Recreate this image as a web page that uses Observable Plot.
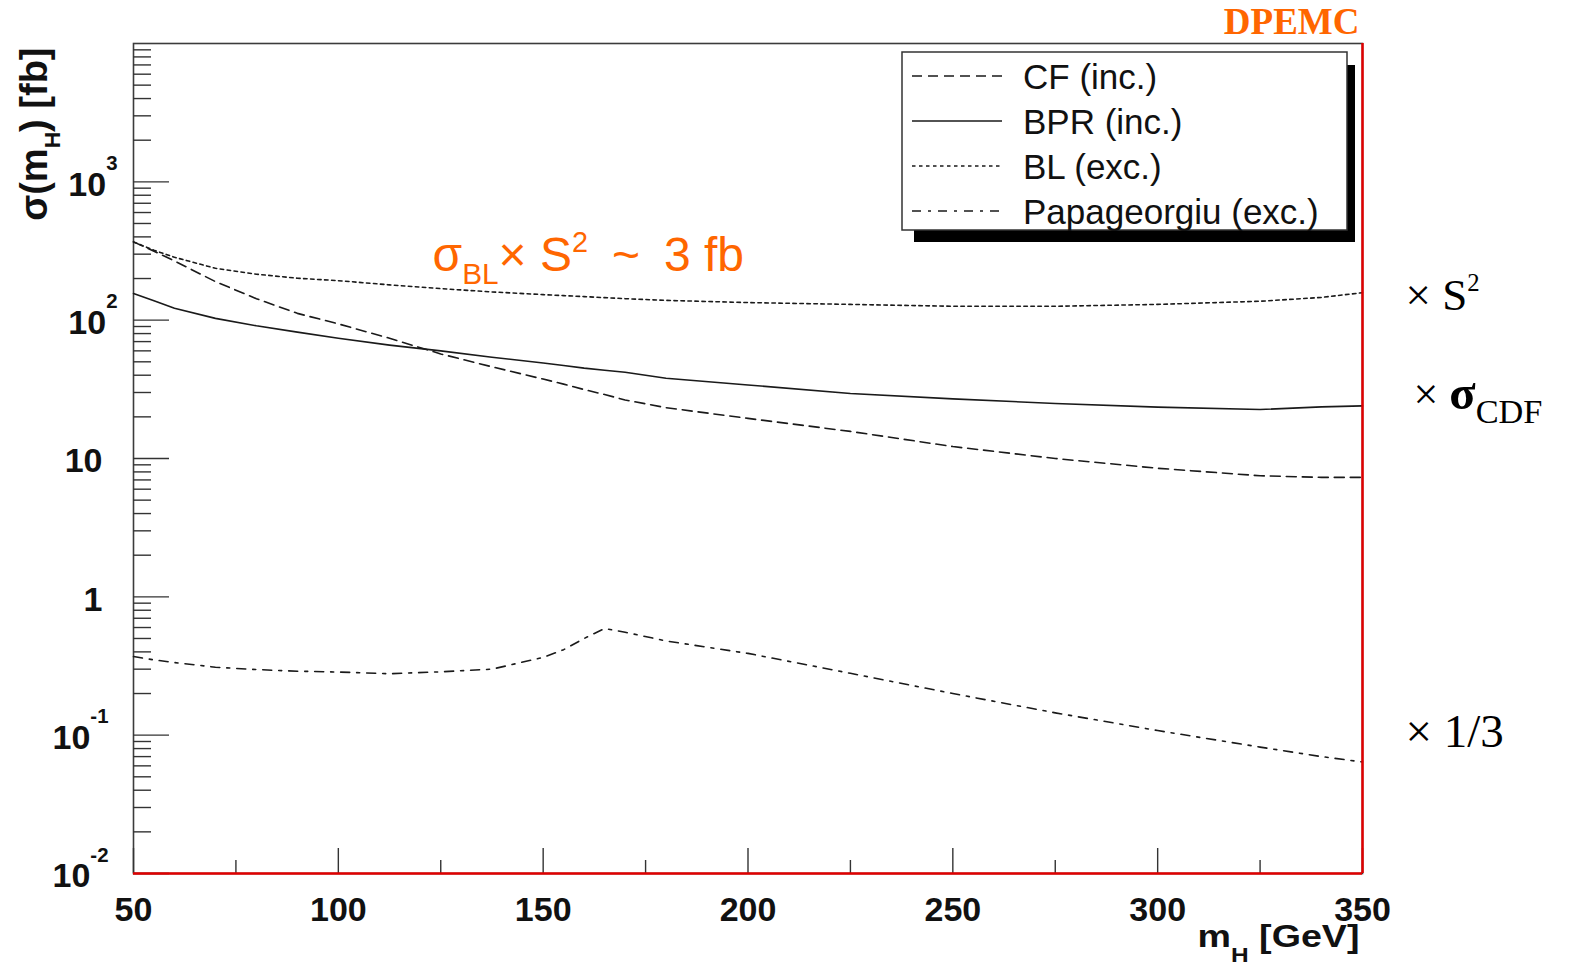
<!DOCTYPE html>
<html><head><meta charset="utf-8">
<script src="https://cdn.jsdelivr.net/npm/d3@7"></script>
<script src="https://cdn.jsdelivr.net/npm/@observablehq/plot@0.6"></script>
<style>
html,body{margin:0;padding:0;background:#fff;overflow:hidden;}
#wrap{position:relative;width:1569px;height:964px;}
</style></head><body><div id="wrap"></div>
<script>
// ---- data (mH in GeV, sigma in fb) ----
const mass      = [50,55,60,70,80,90,100,112.5,125,137.5,150,155,160,165,170,180,200,225,250,275,300,325,340,350];
const sigmaCF   = [368,315,268,190,143,112,94,74,57,46,37.5,34.5,31.5,29,26.5,23.3,19.5,15.7,12.2,10,8.5,7.5,7.3,7.3];
const sigmaBPR  = [156,138,122,103,91,82,74,66,60,54,49,47,45,43.5,42,38,34,29.5,27,25,23.5,22.6,23.6,24];
const sigmaBL   = [368,320,285,237,215,201,193,180,169,160,153,150.5,148,145.5,143,139,134,130,126,126,130,137,146,158];
const sigmaPap  = [0.37,0.35,0.335,0.31,0.298,0.29,0.286,0.278,0.287,0.30,0.365,0.415,0.50,0.59,0.555,0.48,0.39,0.28,0.20,0.145,0.108,0.082,0.070,0.064];
const seriesNames = ["CF (inc.)","BPR (inc.)","BL (exc.)","Papageorgiu (exc.)"];
const xTickMajor = [50,100,150,200,250,300,350];
const xTickMinor = [75,125,175,225,275,325];
const xTickLabels = ["50","100","150","200","250","300","350"];
const yTickValues = [0.01,0.1,1,10,100,1000];
const yTickLabels = ["10^{-2}","10^{-1}","1","10","10^{2}","10^{3}"];
const yDecadeStarts = [0.01,0.1,1,10,100,1000];

// ---- rich text (sub/superscripts) ----
const richCfg = new Map();
function rich(str, cfg){ richCfg.set(str, cfg); return str; }
function applyRich(svg){
  svg.querySelectorAll("text").forEach(t=>{
    const s = t.textContent; const cfg = richCfg.get(s); if(!cfg) return;
    const base = parseFloat(getComputedStyle(t).fontSize);
    while(t.firstChild) t.removeChild(t.firstChild);
    const re = /([_^!])\{([^}]*)\}/g; let last=0, cur=0, m;
    const add=(txt,kind)=>{
      if(!txt) return;
      const ts=document.createElementNS("http://www.w3.org/2000/svg","tspan");
      let target=0;
      if(kind==="b"){ ts.setAttribute("font-weight","bold"); if(cfg.b) ts.setAttribute("font-size",(cfg.b[0]*base).toFixed(2)); }
      else if(kind){ const c=cfg[kind]; ts.setAttribute("font-size",(c[0]*base).toFixed(2)); target=c[1]*base; }
      if(target-cur!==0) ts.setAttribute("dy",(target-cur).toFixed(2));
      cur=target; ts.textContent=txt; t.appendChild(ts);
    };
    while((m=re.exec(s))){ add(s.slice(last,m.index),null); add(m[2], m[1]==="_"?"sub":m[1]==="^"?"sup":"b"); last=re.lastIndex; }
    add(s.slice(last),null);
    if(cfg.len){ t.setAttribute("textLength",cfg.len); t.setAttribute("lengthAdjust","spacingAndGlyphs"); }
  });
}
yTickLabels.forEach(l=>{ if(l.includes("^{")) rich(l,{sup:[0.6,-0.76]}); });

const W=1569,H=964,mL=133,mR=207,mT=43,mB=91;
const plotW=W-mL-mR, plotH=H-mT-mB;
const yMinor = yDecadeStarts.flatMap(d=>[2,3,4,5,6,7,8,9].map(k=>d*k));
const yTicks = yTickValues.map((v,i)=>({v,label:yTickLabels[i]}));
const xTicks = xTickMajor.map((v,i)=>({v,label:xTickLabels[i]}));

const dashes = ["10,6",null,"3.5,3.5","9,7,3,7"];
const allSeries = [sigmaCF,sigmaBPR,sigmaBL,sigmaPap];
const lineColor = "#1a1a1a";
const sans = "'Liberation Sans', Arial, sans-serif";
const serif = "'Liberation Serif', 'Times New Roman', serif";
const orange = "#ff6600";

const xTitle = rich("m_{H} [GeV]",{sub:[0.65,0.5],len:162});
const yTitle = rich("σ(m_{H}) [fb]",{sub:[0.6,0.36]});
const note = rich("σ_{BL}× S^{2}\u2002~\u20023 fb",{sub:[0.62,0.28],sup:[0.6,-0.38]});
const r1 = rich("× S^{2}",{sup:[0.55,-0.42]});
const r2 = rich("× !{σ}_{CDF}",{sub:[0.78,0.33],b:[1.1]});

const marks = [
  Plot.frame({stroke:"#3c3c3c",strokeWidth:1.6}),
  Plot.tickY(yMinor,{y:d=>d,insetRight:plotW-18,stroke:"#333",strokeWidth:1.4}),
  Plot.tickY(yTickValues,{y:d=>d,insetRight:plotW-36,stroke:"#333",strokeWidth:1.4}),
  Plot.tickX(xTickMinor,{x:d=>d,insetTop:plotH-13,stroke:"#333",strokeWidth:1.4}),
  Plot.tickX(xTickMajor,{x:d=>d,insetTop:plotH-25,stroke:"#333",strokeWidth:1.4}),
  ...allSeries.map((vals,k)=>Plot.line(mass.map((m,i)=>({m,v:vals[i]})),{x:"m",y:"v",stroke:lineColor,strokeWidth:1.6,strokeDasharray:dashes[k]})),
  Plot.ruleY([0.01],{stroke:"#e00000",strokeWidth:2.5}),
  Plot.ruleX([350],{stroke:"#e00000",strokeWidth:2.5}),
  // y tick labels
  Plot.text(yTicks,{filter:d=>d.label.includes("^{")&&!d.label.includes("-"),y:"v",text:"label",frameAnchor:"left",textAnchor:"end",dx:-16,dy:3,fontSize:34,fontWeight:"bold",fontFamily:sans,fill:"#111"}),
  Plot.text(yTicks,{filter:d=>d.label.includes("^{-"),y:"v",text:"label",frameAnchor:"left",textAnchor:"end",dx:-25,dy:3,fontSize:34,fontWeight:"bold",fontFamily:sans,fill:"#111"}),
  Plot.text(yTicks,{filter:d=>!d.label.includes("^{"),y:"v",text:"label",frameAnchor:"left",textAnchor:"end",dx:-31,dy:3,fontSize:34,fontWeight:"bold",fontFamily:sans,fill:"#111"}),
  // x tick labels
  Plot.text(xTicks,{x:"v",text:"label",frameAnchor:"bottom",lineAnchor:"bottom",dy:47,fontSize:34,fontWeight:"bold",fontFamily:sans,fill:"#111"}),
  // axis titles
  Plot.text([xTitle],{text:d=>d,frameAnchor:"bottom-right",textAnchor:"end",lineAnchor:"bottom",dx:-3,dy:73,fontSize:31,fontWeight:"bold",fontFamily:sans,fill:"#111"}),
  Plot.text([yTitle],{text:d=>d,frameAnchor:"top-left",textAnchor:"end",lineAnchor:"bottom",rotate:-90,dx:-87,dy:4,fontSize:38,fontWeight:"bold",fontFamily:sans,fill:"#111"}),
  // annotations
  Plot.text(["DPEMC"],{text:d=>d,frameAnchor:"top-right",textAnchor:"end",lineAnchor:"bottom",dx:-3,dy:-10,fontSize:37,fontWeight:"bold",fontFamily:serif,fill:orange}),
  Plot.text([note],{text:d=>d,frameAnchor:"top-left",textAnchor:"start",lineAnchor:"bottom",dx:299,dy:227,fontSize:48,fontFamily:sans,fill:orange}),
  Plot.text([r1],{text:d=>d,frameAnchor:"top-right",textAnchor:"start",lineAnchor:"bottom",dx:43,dy:266,fontSize:45,fontFamily:serif,fill:"#000"}),
  Plot.text([r2],{text:d=>d,frameAnchor:"top-right",textAnchor:"start",lineAnchor:"bottom",dx:51,dy:365,fontSize:44,fontFamily:serif,fill:"#000"}),
  Plot.text(["× 1/3"],{text:d=>d,frameAnchor:"top-right",textAnchor:"start",lineAnchor:"bottom",dx:43,dy:703,fontSize:47,fontFamily:serif,fill:"#000"})
];

const svg = Plot.plot({
  width:W,height:H,marginLeft:mL,marginRight:mR,marginTop:mT,marginBottom:mB,
  x:{domain:[50,350],axis:null},
  y:{type:"log",domain:[0.01,1e4],axis:null},
  style:{background:"white",overflow:"visible"},
  marks
});
document.getElementById("wrap").appendChild(svg);
applyRich(svg);

// ---- legend ----
const lg = d3.select(svg).append("g").attr("text-anchor","start");
lg.append("rect").attr("x",914).attr("y",65).attr("width",441).attr("height",177).attr("fill","#000");
lg.append("rect").attr("x",902).attr("y",52).attr("width",445).attr("height",178).attr("fill","#fff").attr("stroke","#333").attr("stroke-width",1.5);
seriesNames.forEach((name,i)=>{
  const y = 76 + i*45;
  lg.append("line").attr("x1",912).attr("x2",1002).attr("y1",y).attr("y2",y)
    .attr("stroke",lineColor).attr("stroke-width",1.6).attr("stroke-dasharray",dashes[i]);
  lg.append("text").attr("x",1023).attr("y",y).attr("dy","0.36em").attr("text-anchor","start")
    .attr("font-family",sans).attr("font-size",35).attr("fill","#111").text(name);
});
</script></body></html>
